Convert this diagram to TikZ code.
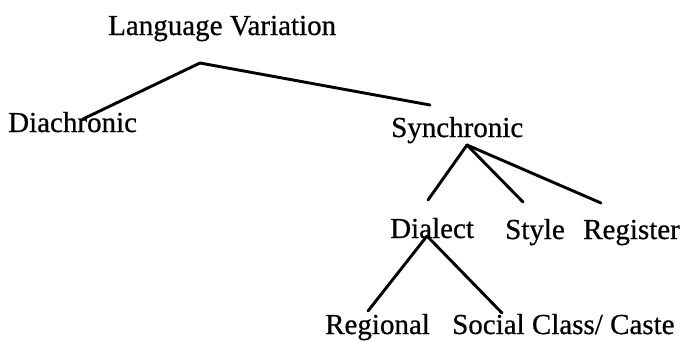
\documentclass[tikz,border=0pt]{standalone}
\usepackage{fontspec}
\setmainfont{Liberation Serif}
\newfontfamily\scanfont[FakeBold=0.6]{Liberation Serif}
\begin{document}
\begin{tikzpicture}[x=1pt,y=-1pt,
  lbl/.style={anchor=base west,inner sep=0pt,font=\scanfont\fontsize{29}{32}\selectfont},
  branch/.style={line width=2.9pt,line cap=round}]
\useasboundingbox (0,0) rectangle (685,341);
% labels
\node[lbl] (lv) at (108,35) {Language Variation};
\node[lbl] (dia) at (8,132) {Diachronic};
\node[lbl] (syn) at (391,137) {Synchronic};
\node[lbl] (dial) at (390,238) {Dialect};
\node[lbl] (sty) at (505,239) {Style};
\node[lbl] (reg) at (583,239) {Register};
\node[lbl] (rgn) at (325,334) {Regional};
\node[lbl] (soc) at (452,334) {Social Class/ Caste};
% branch points
\coordinate (lvA) at (200,63);
\coordinate (diaE) at (83,119);
\coordinate (synE) at (430,105);
\coordinate (synA) at (467,145);
\coordinate (dialE) at (428,200);
\coordinate (styE) at (523,202);
\coordinate (regE) at (601,203);
\coordinate (dialA) at (427,236);
\coordinate (rgnE) at (368,311);
\coordinate (socE) at (502,313);
% connectors
\draw[branch] (lvA) -- (diaE);
\draw[branch] (lvA) -- (synE);
\draw[branch] (synA) -- (dialE);
\draw[branch] (synA) -- (styE);
\draw[branch] (synA) -- (regE);
\draw[branch] (dialA) -- (rgnE);
\draw[branch] (dialA) -- (socE);
\end{tikzpicture}
\end{document}
